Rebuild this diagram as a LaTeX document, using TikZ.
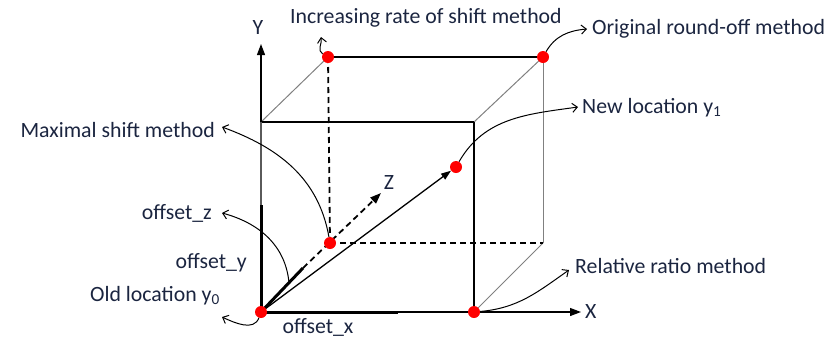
\documentclass[tikz,border=0pt]{standalone}
\usepackage{fontspec}
\setmainfont{Carlito}
\usetikzlibrary{arrows.meta}
\definecolor{txt}{RGB}{27,37,64}
\definecolor{edgegray}{RGB}{128,128,128}
\begin{document}
\begin{tikzpicture}[x=1pt,y=-1pt,
  lbl/.style={font=\fontsize{21.8}{24}\selectfont, text=txt, inner sep=0pt},
  dot/.style={circle, fill=red, draw=none, minimum size=12pt, inner sep=0pt},
  frontedge/.style={line width=1.2pt, black},
  grayedge/.style={line width=1pt, edgegray},
  dashedge/.style={line width=1.8pt, black, dash pattern=on 6pt off 4pt},
  thickseg/.style={line width=3pt, black},
  axistip/.style={-{Triangle[length=11pt,width=8pt]}},
  callout/.style={line width=1pt, black, -{Straight Barb[length=5pt,width=9pt]}}
]
\useasboundingbox (0,0) rectangle (833,338);
% points
\coordinate (pO) at (261,312);
\coordinate (pA) at (474,312);
\coordinate (pB) at (330,243);
\coordinate (pC) at (328,57);
\coordinate (pD) at (543,57);
\coordinate (pE) at (543,243);
\coordinate (pF) at (261,122);
\coordinate (pG) at (474,122);
\coordinate (pY) at (456,167);
\coordinate (xtip) at (581,312);
\coordinate (ytip) at (261,44);
\coordinate (ztip) at (381,193);
\coordinate (ox) at (398,312);
\coordinate (oy) at (261,205);
\coordinate (oz) at (303,268);
% cube edges
\draw[grayedge] (pF) -- (pC);
\draw[grayedge] (pG) -- (pD);
\draw[grayedge] (pA) -- (pE);
\draw[grayedge] (pD) -- (pE);
\draw[frontedge] (pC) -- (pD);
\draw[frontedge] (pF) -- (pG);
\draw[frontedge] (pG) -- (pA);
\draw[dashedge] (pC) -- (pB);
\draw[dashedge] (pB) -- (pE);
% axes
\draw[line width=1.2pt, edgegray!70!black] (oy) -- (pF);
\draw[line width=1.2pt, axistip] (pF) -- (ytip);
\draw[line width=1.2pt, axistip] (ox) -- (xtip);
\draw[dashedge, axistip] (oz) -- (ztip);
\draw[thickseg] (pO) -- (oy);
\draw[thickseg] (pO) -- (ox);
\draw[thickseg] (pO) -- (oz);
% dots
\node[dot] (dO) at (pO) {};
\node[dot] (dA) at (pA) {};
\node[dot] (dB) at (pB) {};
\node[dot] (dC) at (pC) {};
\node[dot] (dD) at (pD) {};
\node[dot] (dY) at (pY) {};
% vector to new location
\draw[line width=1.3pt, -{Triangle[length=10pt,width=7pt]}] (dO) -- (dY);
% axis labels
\node[lbl] (lY) at (258,28) {Y};
\node[lbl, anchor=west] (lX) at (585,312) {X};
\node[lbl] (lZ) at (389,183) {Z};
% text labels
\node[lbl, anchor=west] (linc) at (290,18) {Increasing rate of shift method};
\node[lbl, anchor=west] (lorig) at (592,29) {Original round-off method};
\node[lbl, anchor=west] (lnew) at (582,108) {New location y\textsubscript{1}};
\node[lbl, anchor=east] (lmax) at (215,130) {Maximal shift method};
\node[lbl, anchor=east] (loz) at (212,213) {offset\_z};
\node[lbl, anchor=east] (loy) at (247,263) {offset\_y};
\node[lbl, anchor=east] (lold) at (220,296) {Old location y\textsubscript{0}};
\node[lbl] (lox) at (318,327) {offset\_x};
\node[lbl, anchor=west] (lrel) at (575,266) {Relative ratio method};
% callout tips
\coordinate (tinc) at (321,37);
\coordinate (torig) at (587,29);
\coordinate (tnew) at (578,107);
\coordinate (tmax) at (222,127);
\coordinate (tozs) at (289,283);
\coordinate (toz) at (222,213);
\coordinate (told) at (222,317);
\coordinate (trel) at (569,270);
% callouts
\draw[callout] (dC) to[out=150,in=-80] (tinc);
\draw[callout] (dD) to[out=60,in=185] (torig);
\draw[callout] (dY) to[out=60,in=188] (tnew);
\draw[callout] (dB) to[out=100,in=-20] (tmax);
\draw[callout] (tozs) to[out=95,in=-15] (toz);
\draw[callout] (dO) to[out=-110,in=-25] (told);
\draw[callout] (dA) to[out=5,in=-145] (trel);
\end{tikzpicture}
\end{document}
